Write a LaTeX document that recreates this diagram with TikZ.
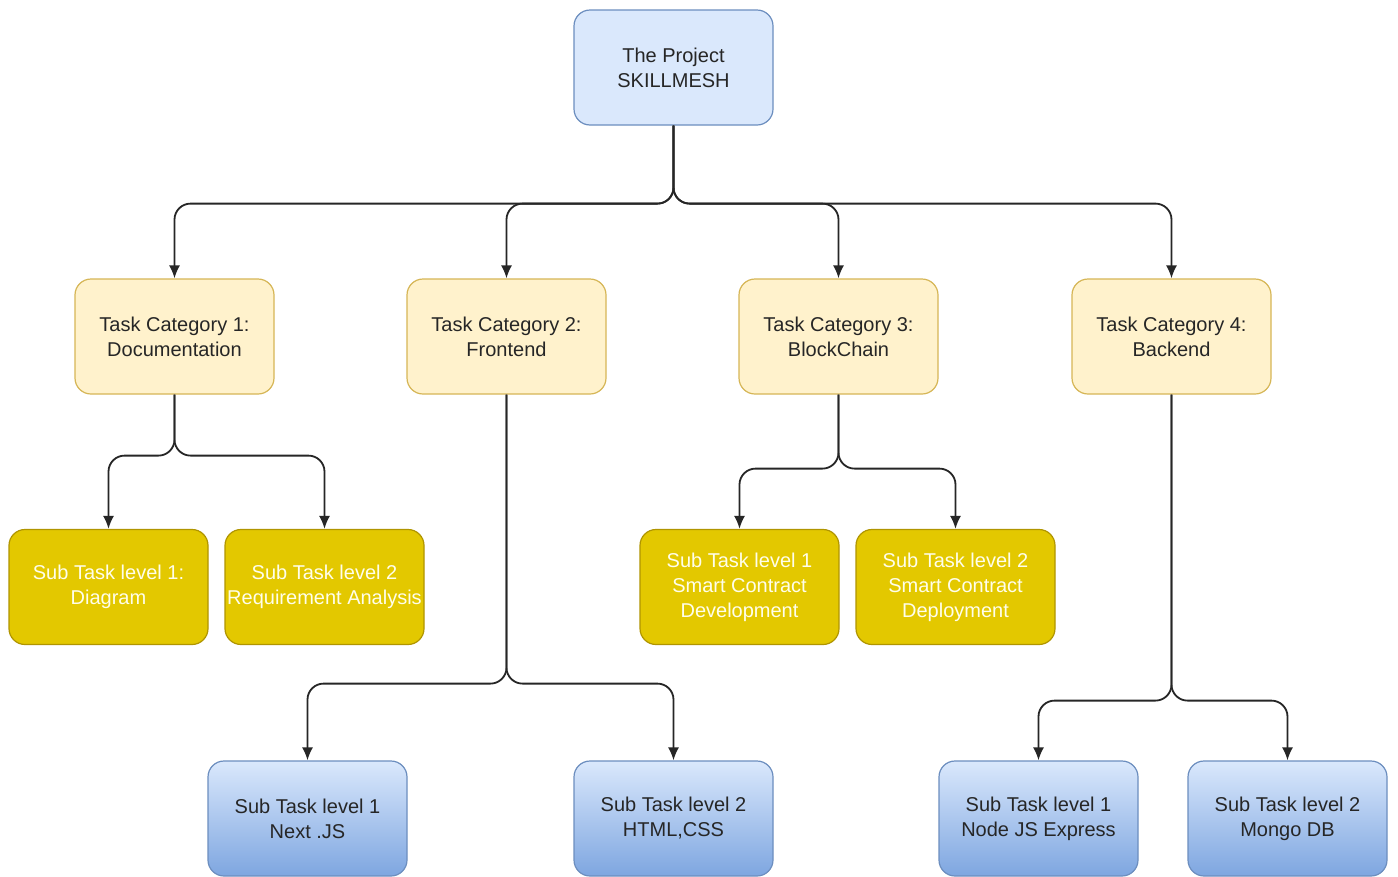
\documentclass[tikz,border=0pt]{standalone}
\usepackage{fontspec}
\setmainfont{Liberation Sans}
\usetikzlibrary{arrows.meta}
\definecolor{rootfill}{HTML}{DAE8FC}
\definecolor{rootline}{HTML}{6C8EBF}
\definecolor{catfill}{HTML}{FFF2CC}
\definecolor{catline}{HTML}{D6B656}
\definecolor{goldfill}{HTML}{E3C800}
\definecolor{goldline}{HTML}{B09500}
\definecolor{bluebot}{HTML}{7EA6E0}
\begin{document}
\begin{tikzpicture}[x=1pt,y=-1pt,
  box/.style={rectangle,rounded corners=16pt,minimum width=199pt,minimum height=115pt,
    align=center,line width=1.2pt,inner sep=2pt,
    font=\fontsize{20}{25}\selectfont},
  rootbox/.style={box,draw=rootline,fill=rootfill,text=black!85},
  catbox/.style={box,draw=catline,fill=catfill,text=black!85},
  goldbox/.style={box,draw=goldline,fill=goldfill,text=white!92!yellow},
  bluebox/.style={box,draw=rootline,top color=rootfill,bottom color=bluebot,text=black!85},
  link/.style={line width=1.8pt,black!85,rounded corners=16pt,-{Latex[length=13pt,width=11pt]}}]
\useasboundingbox (0,0) rectangle (1398,876);
\clip (0,0) rectangle (1398,876);
\fill[white] (0,0) rectangle (1398,876);

% root
\node[rootbox] (root) at (673.5,67.5) {The Project\\SKILLMESH};

% task categories
\node[catbox] (c1) at (174.5,336.5) {Task Category 1:\\Documentation};
\node[catbox] (c2) at (506.5,336.5) {Task Category 2:\\Frontend};
\node[catbox] (c3) at (838.5,336.5) {Task Category 3:\\BlockChain};
\node[catbox] (c4) at (1171.5,336.5) {Task Category 4:\\Backend};

% documentation / blockchain sub tasks
\node[goldbox] (d1) at (108.5,587) {Sub Task level 1:\\Diagram};
\node[goldbox] (d2) at (324.5,587) {Sub Task level 2\\Requirement Analysis};
\node[goldbox] (b1) at (739.5,587) {Sub Task level 1\\Smart Contract\\Development};
\node[goldbox] (b2) at (955.5,587) {Sub Task level 2\\Smart Contract\\Deployment};

% frontend / backend sub tasks
\node[bluebox] (f1) at (307.5,818.5) {Sub Task level 1\\Next .JS};
\node[bluebox] (f2) at (673.5,818.5) {Sub Task level 2\\HTML,CSS};
\node[bluebox] (k1) at (1038.5,818.5) {Sub Task level 1\\Node JS Express};
\node[bluebox] (k2) at (1287.5,818.5) {Sub Task level 2\\Mongo DB};

% connectors
\foreach \c in {c1,c2,c3,c4}
  \draw[link] (root.south) -- ++(0,78) -| (\c.north);
\foreach \s in {d1,d2}
  \draw[link] (c1.south) -- ++(0,61) -| (\s.north);
\foreach \s in {b1,b2}
  \draw[link] (c3.south) -- ++(0,74) -| (\s.north);
\foreach \s in {f1,f2}
  \draw[link] (c2.south) -- ++(0,289) -| (\s.north);
\foreach \s in {k1,k2}
  \draw[link] (c4.south) -- ++(0,306) -| (\s.north);
\end{tikzpicture}
\end{document}
